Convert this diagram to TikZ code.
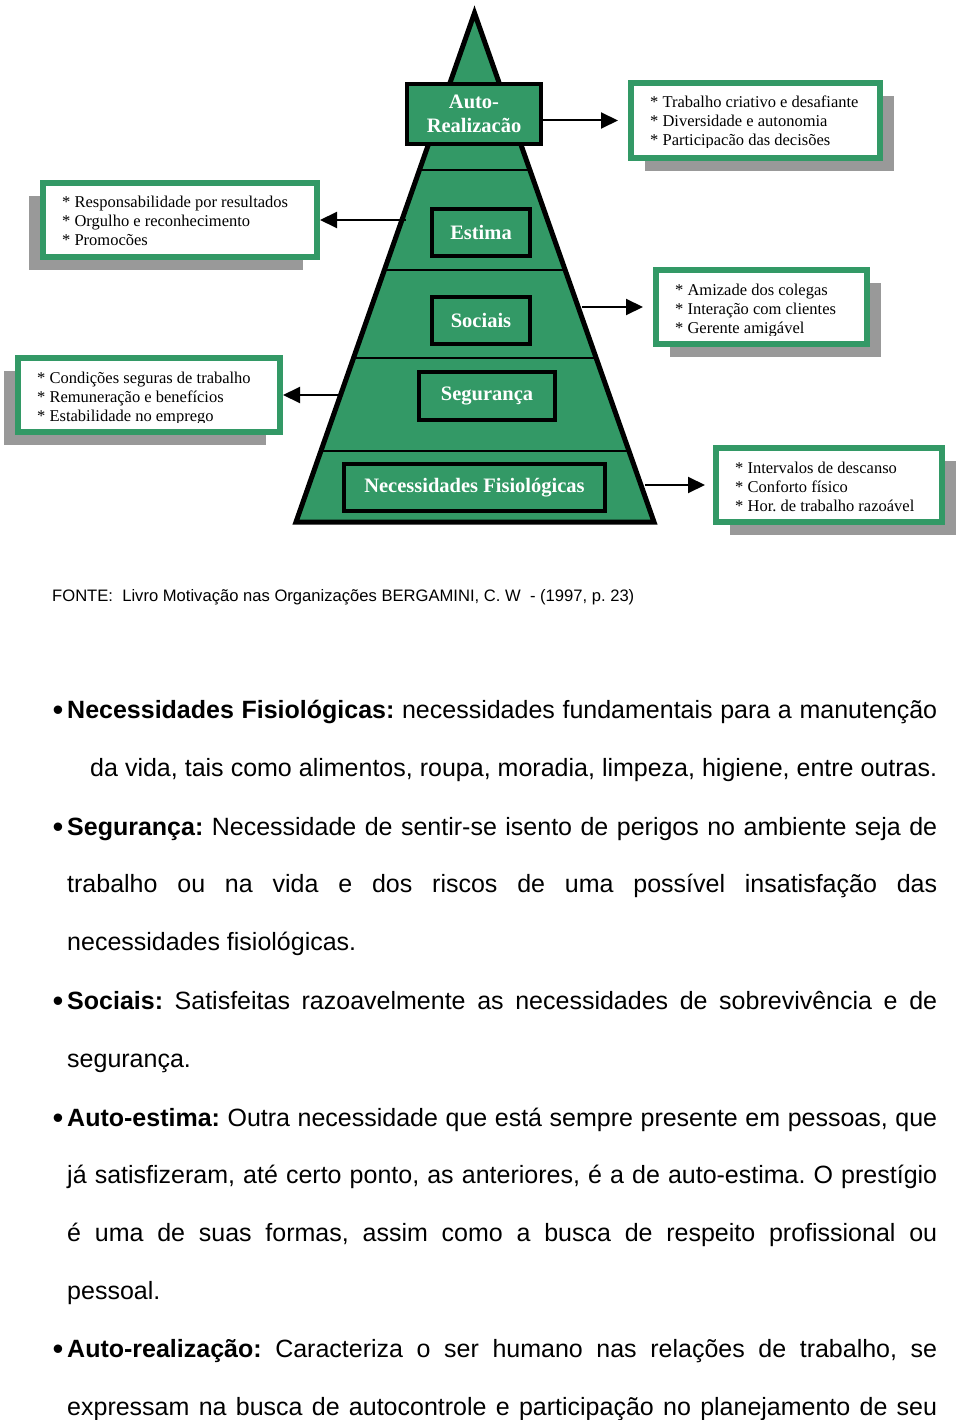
\documentclass[tikz,border=0pt]{standalone}
\usepackage{fontspec}
\setmainfont{Liberation Serif}
\setsansfont{Liberation Sans}
\usepackage{tikz}
\usetikzlibrary{arrows.meta}
\usetikzlibrary{shadows}
\frenchspacing
\definecolor{pyrgreen}{RGB}{51,153,102}
\definecolor{shadowgray}{RGB}{153,153,153}
\tikzset{
  lvlbox/.style={draw=black, fill=pyrgreen, line width=4pt, inner sep=0pt, outer sep=0pt,
    text=white, align=center, font=\fontsize{20.5}{24}\selectfont\bfseries},
  infobox/.style={draw=pyrgreen, fill=white, line width=6pt, inner sep=0pt, outer sep=3pt,
    drop shadow={fill=shadowgray, opacity=1, shadow xshift=#1, shadow yshift=-13pt}},
  infobox/.default=14pt,
  itemtext/.style={anchor=base west, inner sep=0pt, font=\fontsize{16.5}{19}\selectfont},
  bodytext/.style={anchor=base west, inner sep=0pt, font=\sffamily\fontsize{25}{30}\selectfont},
  bul/.style={anchor=base, inner sep=0pt, font=\sffamily\fontsize{31}{31}\selectfont},
  arr/.style={-{Triangle[length=17pt,width=16pt]}, line width=2pt},
}

\begin{document}
\begin{tikzpicture}[x=1pt,y=-1pt]
          \useasboundingbox (0,0) rectangle (960,1420);
          %pyramid with its levels
          \fill[pyrgreen] (474.5,13) -- (654,522) -- (296,522) -- cycle;
          \begin{scope}
            \clip (474.5,13) -- (654,522) -- (296,522) -- cycle;
            \foreach \y in {170,270,358,451}
              \draw[line width=2pt] (250,\y) -- (700,\y);
          \end{scope}
          \draw[line width=5pt, line join=miter] (474.5,13) -- (654,522) -- (296,522) -- cycle;

          \node[lvlbox, minimum width=134pt, minimum height=60pt] (auto) at (474,114) {Auto-\\Realizacão};
          \node[lvlbox, minimum width=98pt, minimum height=47pt] (estima) at (481,232.5) {Estima};
          \node[lvlbox, minimum width=98pt, minimum height=47pt] (sociais) at (481,320.5) {Sociais};
          \node[lvlbox, minimum width=136pt, minimum height=48pt] (seguranca) at (487,396) {Segurança};
          \node[lvlbox, minimum width=261pt, minimum height=47pt] (fisio) at (474.5,487.5) {Necessidades Fisiológicas};

          %boxes beside the pyramid
          \node[infobox, minimum width=249pt, minimum height=75pt] (trab) at (755.5,120.5) {};
          \node[infobox=-14pt, minimum width=274pt, minimum height=74pt] (resp) at (180,220) {};
          \node[infobox, minimum width=211pt, minimum height=74pt] (amiz) at (761.5,307) {};
          \node[infobox=-14pt, minimum width=262pt, minimum height=74pt] (cond) at (149,395) {};
          \node[infobox, minimum width=226pt, minimum height=74pt] (interv) at (829,485) {};

          \begin{scope}
            \clip (634,86) rectangle (877,148) (46,186) rectangle (314,248)
                  (659,273) rectangle (864,335) (21,361) rectangle (277,422)
                  (719,451) rectangle (939,512);
            \foreach \t [count=\i from 0] in {{* Trabalho criativo e desafiante},{* Diversidade e autonomia},{* Participacão das decisões}}
              \node[itemtext] (trab-\i) at (650,108+19*\i) {\t};
            \foreach \t [count=\i from 0] in {{* Responsabilidade por resultados},{* Orgulho e reconhecimento},{* Promocões}}
              \node[itemtext] (resp-\i) at (62,208+19*\i) {\t};
            \foreach \t [count=\i from 0] in {{* Amizade dos colegas},{* Interação com clientes},{* Gerente amigável}}
              \node[itemtext] (amiz-\i) at (675,296+19*\i) {\t};
            \foreach \t [count=\i from 0] in {{* Condições seguras de trabalho},{* Remuneração e benefícios},{* Estabilidade no emprego}}
              \node[itemtext] (cond-\i) at (37,383+19*\i) {\t};
            \foreach \t [count=\i from 0] in {{* Intervalos de descanso},{* Conforto físico},{* Hor. de trabalho razoável}}
              \node[itemtext] (interv-\i) at (735,473+19*\i) {\t};
          \end{scope}

          %arrows
          \coordinate (estima-l) at (406,220);
          \coordinate (sociais-r) at (582,307);
          \coordinate (seg-l) at (343,395);
          \coordinate (fisio-r) at (645,485);
          \draw[arr, shorten >=10pt] (auto.east |- trab.west) -- (trab.west);
          \draw[arr] (estima-l) -- (resp.east);
          \draw[arr, shorten >=10pt] (sociais-r) -- (amiz.west);
          \draw[arr] (seg-l) -- (cond.east);
          \draw[arr, shorten >=8pt] (fisio-r) -- (interv.west);

          \node[anchor=base west, inner sep=0pt, font=\sffamily\fontsize{16.6}{20}\selectfont] (fonte) at (52,601)
            {FONTE:\ \ Livro Motivação nas Organizações BERGAMINI, C. W\ \ - (1997, p. 23)};

          %text below
          \node[bul] (b1) at (58,720) {•};
          \node[bodytext] (l1) at (67,718) {\makebox[870pt][s]{\textbf{Necessidades Fisiológicas:} necessidades fundamentais para a manutenção}};
          \node[bodytext] (l2) at (90,776) {\makebox[847pt][s]{da vida, tais como alimentos, roupa, moradia, limpeza, higiene, entre outras.}};
          \node[bul] (b2) at (58,837) {•};
          \node[bodytext] (l3) at (67,835) {\makebox[870pt][s]{\textbf{Segurança:} Necessidade de sentir-se isento de perigos no ambiente seja de}};
          \node[bodytext] (l4) at (67,892) {\makebox[870pt][s]{trabalho ou na vida e dos riscos de uma possível insatisfação das}};
          \node[bodytext] (l5) at (67,950) {necessidades fisiológicas.};
          \node[bul] (b3) at (58,1011) {•};
          \node[bodytext] (l6) at (67,1009) {\makebox[870pt][s]{\textbf{Sociais:} Satisfeitas razoavelmente as necessidades de sobrevivência e de}};
          \node[bodytext] (l7) at (67,1067) {segurança.};
          \node[bul] (b4) at (58,1128) {•};
          \node[bodytext] (l8) at (67,1126) {\makebox[870pt][s]{\textbf{Auto-estima:} Outra necessidade que está sempre presente em pessoas, que}};
          \node[bodytext] (l9) at (67,1183) {\makebox[870pt][s]{já satisfizeram, até certo ponto, as anteriores, é a de auto-estima. O prestígio}};
          \node[bodytext] (l10) at (67,1241) {\makebox[870pt][s]{é uma de suas formas, assim como a busca de respeito profissional ou}};
          \node[bodytext] (l11) at (67,1299) {pessoal.};
          \node[bul] (b5) at (58,1359) {•};
          \node[bodytext] (l12) at (67,1357) {\makebox[870pt][s]{\textbf{Auto-realização:} Caracteriza o ser humano nas relações de trabalho, se}};
          \node[bodytext] (l13) at (67,1415) {\makebox[870pt][s]{expressam na busca de autocontrole e participação no planejamento de seu}};
      \end{tikzpicture}
\end{document}
